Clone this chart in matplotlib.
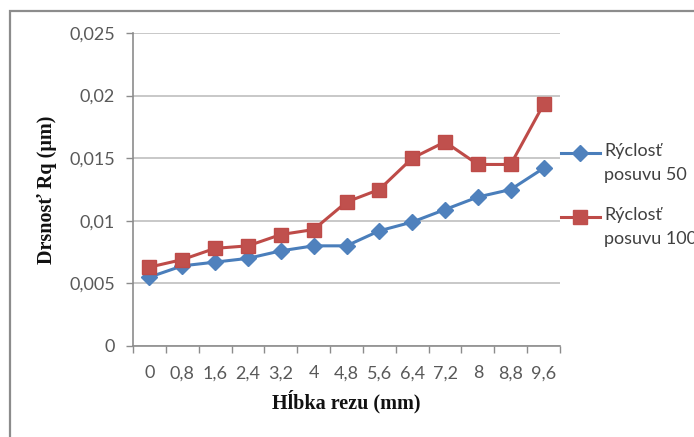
import matplotlib
matplotlib.use("Agg")
import matplotlib.pyplot as plt
from matplotlib.lines import Line2D
from matplotlib.patches import Rectangle
import numpy as np

# Depth of cut categories (mm) and measured roughness Rq (µm)
depth_labels = ["0", "0,8", "1,6", "2,4", "3,2", "4", "4,8", "5,6", "6,4", "7,2", "8", "8,8", "9,6"]
rq_feed_50 = [0.0055, 0.0064, 0.0067, 0.0070, 0.0076, 0.0080, 0.0080, 0.0092, 0.0099, 0.0109, 0.0119, 0.0125, 0.0142]
rq_feed_100 = [0.0063, 0.0069, 0.0078, 0.0080, 0.0089, 0.0093, 0.0115, 0.0125, 0.0150, 0.0163, 0.0145, 0.0145, 0.0193]
series_names = ["Rýclosť\nposuvu 50", "Rýclosť\nposuvu 100"]
y_ticks = [0, 0.005, 0.01, 0.015, 0.02, 0.025]
y_tick_labels = ["0", "0,005", "0,01", "0,015", "0,02", "0,025"]

W, H = 694, 437
fig = plt.figure(figsize=(W / 100, H / 100), dpi=100)
fig.patch.set_facecolor("white")

# chart frame, running off the right and bottom edges
fig.patches.append(Rectangle((10 / W, -0.1), 1.2, (H - 11) / H + 0.1,
                             transform=fig.transFigure, fill=False,
                             edgecolor="#8c8c8c", linewidth=1.6))

ax = fig.add_axes([133 / W, (H - 346) / H, (560 - 133) / W, (346 - 33) / H])

x = np.arange(len(depth_labels))
blue = "#4a7ebb"
red = "#be4b48"
ax.plot(x, rq_feed_50, color=blue, lw=2.2, marker="D", markersize=8,
        markerfacecolor="#4f81bd", markeredgecolor="#4f81bd", zorder=3)
ax.plot(x, rq_feed_100, color=red, lw=2.2, marker="s", markersize=9.5,
        markerfacecolor="#c0504d", markeredgecolor="#be4b48", zorder=3)

ax.set_xlim(-0.5, len(depth_labels) - 0.5)
ax.set_ylim(0, 0.025)

ax.set_yticks(y_ticks)
ax.set_yticklabels(y_tick_labels)
ax.yaxis.grid(True, color="#bfbfbf", linewidth=1.2)
ax.set_axisbelow(True)

# category ticks between categories, labels centred on categories
ax.set_xticks(np.arange(-0.5, len(depth_labels), 1.0))
ax.set_xticklabels([])
ax.set_xticks(x, minor=True)
ax.set_xticklabels(depth_labels, minor=True)
ax.tick_params(axis="x", which="major", length=5, width=1, color="#8c8c8c", direction="out")
ax.tick_params(axis="x", which="minor", length=0, pad=14)
ax.tick_params(axis="y", length=5, width=1, color="#8c8c8c", pad=8)

for lab in ax.get_xticklabels(minor=True) + ax.get_yticklabels():
    lab.set_family("Lato")
    lab.set_fontsize(13)
    lab.set_color("#595959")

for s in ["top", "right"]:
    ax.spines[s].set_visible(False)
for s in ["left", "bottom"]:
    ax.spines[s].set_color("#8c8c8c")
    ax.spines[s].set_linewidth(1.2)

ax.set_xlabel("Hĺbka rezu (mm)", family="Liberation Serif", fontweight="bold",
              fontsize=14.5, color="#111111", labelpad=6)
ax.set_ylabel("Drsnosť Rq (μm)", family="Liberation Serif", fontweight="bold",
              fontsize=14.5, color="#111111", labelpad=9)

# legend drawn at the right of the plot area
for name, col, fc, mk, ms, ypx in [(series_names[0], blue, "#4f81bd", "D", 8, 153),
                                    (series_names[1], red, "#c0504d", "s", 9.5, 217)]:
    yf = (H - ypx) / H
    fig.add_artist(Line2D([561 / W, 600 / W], [yf, yf], color=col, lw=2.2,
                          transform=fig.transFigure))
    fig.add_artist(Line2D([580 / W], [yf], color=col, marker=mk, markersize=ms,
                          markerfacecolor=fc, markeredgecolor=fc,
                          transform=fig.transFigure))
    fig.text(604 / W, (H - ypx + 10) / H, name, family="Lato", fontsize=13,
             color="#404040", va="top", ha="left", linespacing=1.65)

fig.savefig("out.png", dpi=100)
